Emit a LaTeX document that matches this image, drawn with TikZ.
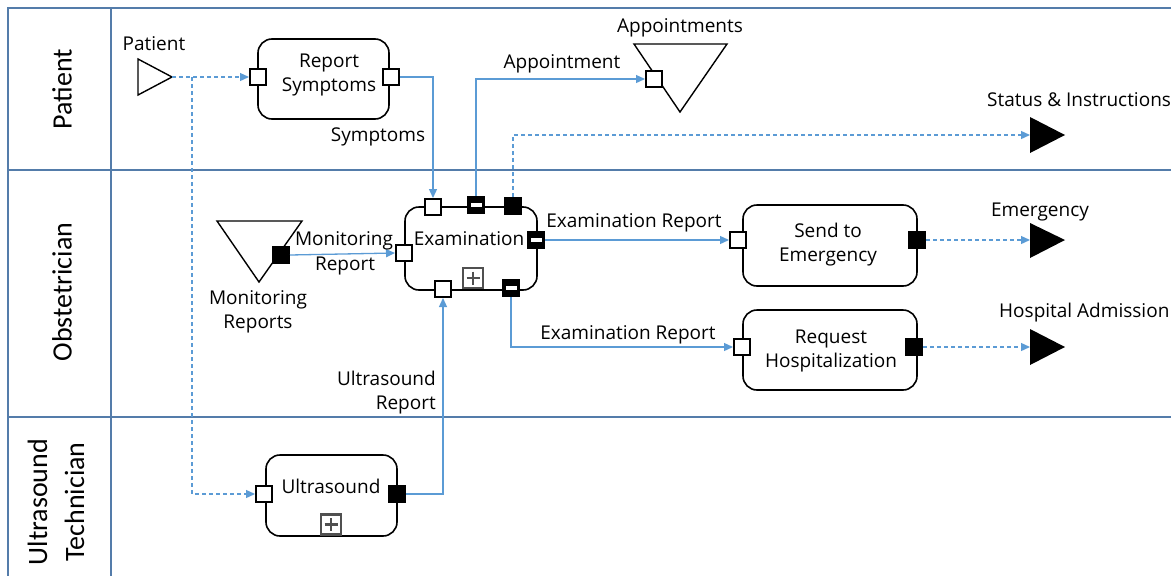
\documentclass[tikz,border=0pt]{standalone}
\usepackage{fontspec}
\setmainfont{Open Sans}
\newfontfamily\lanefont{Carlito}
\usetikzlibrary{arrows.meta,calc}

\definecolor{lane}{RGB}{84,124,170}
\definecolor{flow}{RGB}{91,155,213}
\definecolor{markgray}{RGB}{80,80,80}

\tikzset{
  lanerule/.style={draw=lane, line width=1.2},
  lanetitle/.style={inner sep=0, align=center, rotate=90, font=\lanefont\fontsize{28}{37}\selectfont},
  task/.style={draw, line width=1.6, rounded corners=14, inner sep=0},
  inport/.style={draw, fill=white, line width=2, minimum size=16, inner sep=0},
  outport/.style={draw, fill=black, line width=2, minimum size=16, inner sep=0},
  listport/.style={outport, path picture={
      \fill[white] ($(path picture bounding box.west)+(2.5,-1.8)$)
        rectangle ($(path picture bounding box.east)+(-2.5,1.8)$);}},
  submark/.style={draw=markgray, fill=white, line width=2.2, minimum size=20, inner sep=0,
    path picture={
      \draw[markgray, line width=2.6]
        ($(path picture bounding box.center)+(-6.5,0)$) -- ($(path picture bounding box.center)+(6.5,0)$)
        ($(path picture bounding box.center)+(0,-6.5)$) -- ($(path picture bounding box.center)+(0,6.5)$);}},
  flowline/.style={draw=flow, line width=1.3},
  dataflow/.style={flowline, -{Triangle[length=9,width=8]}},
  msgflow/.style={flowline, dashed, dash pattern=on 4pt off 3pt, -{Triangle[length=9,width=8]}},
  txt/.style={inner sep=0, align=center},
  event/.style={draw, line width=1.4, line join=miter},
  endevent/.style={fill=black},
}

\begin{document}
\begin{tikzpicture}[x=1pt, y=-1pt, font=\fontsize{19}{24}\selectfont]
\useasboundingbox (0,0) rectangle (1171,576);

% swimlane frame
\draw[lanerule] (1171,8) -- (8,8) -- (8,576);
\draw[lanerule] (111,8) -- (111,576);
\draw[lanerule] (8,170) -- (1171,170);
\draw[lanerule] (8,417) -- (1171,417);

\node[lanetitle] (lane-pat) at (62,89) {Patient};
\node[lanetitle] (lane-obs) at (62,292) {Obstetrician};
\node[lanetitle] (lane-us) at (56,502) {Ultrasound\\Technician};

% start event: Patient
\draw[event] (138,59) -- (138,95) -- (172,77) -- cycle;
\coordinate (pat) at (172,77);
\coordinate (split) at (192,77);
\node[txt] (pat-l) at (154,44) {Patient};

% tasks
\node[task, minimum width=131, minimum height=80] (rs) at (323.5,79) {};
\node[txt] (rs-t) at (329,75) {Report\\Symptoms};

\node[task, minimum width=132, minimum height=83] (ex) at (471,248.5) {};
\node[txt] (ex-t) at (469,239) {Examination};
\node[submark] (ex-m) at (473,278) {};

\node[task, minimum width=174, minimum height=81] (se) at (830,245.5) {};
\node[txt] (se-t) at (828,245) {Send to\\Emergency};

\node[task, minimum width=174, minimum height=80] (rh) at (830,350) {};
\node[txt] (rh-t) at (831,351) {Request\\Hospitalization};

\node[task, minimum width=131, minimum height=81] (us) at (331.5,495.5) {};
\node[txt] (us-t) at (331,486) {Ultrasound};
\node[submark] (us-m) at (331,524.5) {};

% data stores
\draw[event] (634,44) -- (727,44) -- (680,112) -- cycle;
\node[txt] (ap-l) at (680,28) {Appointments};
\node[inport] (ap-in) at (654,79) {};

\draw[event] (217,221) -- (302,221) -- (259,282) -- cycle;
\node[txt] (mr-l) at (258,312) {Monitoring\\Reports};
\node[outport] (mr-out) at (281,255) {};

% end events
\fill[endevent] (1030,117) -- (1030,153) -- (1065,135) -- cycle;
\coordinate (si) at (1030,135);
\node[txt, anchor=west] (si-l) at (987,100) {Status \& Instructions};

\fill[endevent] (1030,223) -- (1030,258) -- (1065,240) -- cycle;
\coordinate (em) at (1030,240);
\node[txt] (em-l) at (1040,212) {Emergency};

\fill[endevent] (1030,329) -- (1030,365) -- (1065,347) -- cycle;
\coordinate (ha) at (1030,347);
\node[txt, anchor=west] (ha-l) at (999,313) {Hospital Admission};

% ports
\node[inport] (rs-in) at (258,77) {};
\node[inport] (rs-out) at (391,77) {};

\node[inport] (ex-in1) at (433,207) {};
\node[listport] (ex-ls1) at (476,205) {};
\node[outport] (ex-out1) at (513,206) {};
\node[listport] (ex-ls2) at (536,240) {};
\node[inport] (ex-in2) at (404,253) {};
\node[inport] (ex-in3) at (443,289) {};
\node[listport] (ex-ls3) at (511,288) {};

\node[inport] (se-in) at (738,240) {};
\node[outport] (se-out) at (917,240) {};
\node[inport] (rh-in) at (742,347) {};
\node[outport] (rh-out) at (914,347) {};
\node[inport] (us-in) at (264,494) {};
\node[outport] (us-out) at (397,494) {};

% flows
\draw[msgflow] (pat) -- (rs-in.west);
\draw[msgflow] (split) |- (us-in.west);
\draw[dataflow] (rs-out.east) -| (ex-in1.north);
\draw[dataflow] (ex-ls1.north) |- (ap-in.west);
\draw[msgflow] (ex-out1.north) |- (si);
\draw[dataflow] (ex-ls2.east) -- (se-in.west);
\draw[dataflow] (ex-ls3.south) |- (rh-in.west);
\draw[msgflow] (se-out.east) -- (em);
\draw[msgflow] (rh-out.east) -- (ha);
\draw[dataflow] (mr-out.east) -- (ex-in2.west);
\draw[dataflow] (us-out.east) -| (ex-in3.south);

% flow labels
\node[txt] (sym-l) at (378,137) {Symptoms};
\node[txt] (app-l) at (562,64) {Appointment};
\node[txt] (er1-l) at (634,223) {Examination Report};
\node[txt] (er2-l) at (628,335) {Examination Report};
\node[txt] (mon-l1) at (344,241) {Monitoring};
\node[txt] (mon-l2) at (345,266) {Report};
\node[txt, align=right, anchor=east] (usr-l) at (436,393) {Ultrasound\\Report};
\end{tikzpicture}
\end{document}
